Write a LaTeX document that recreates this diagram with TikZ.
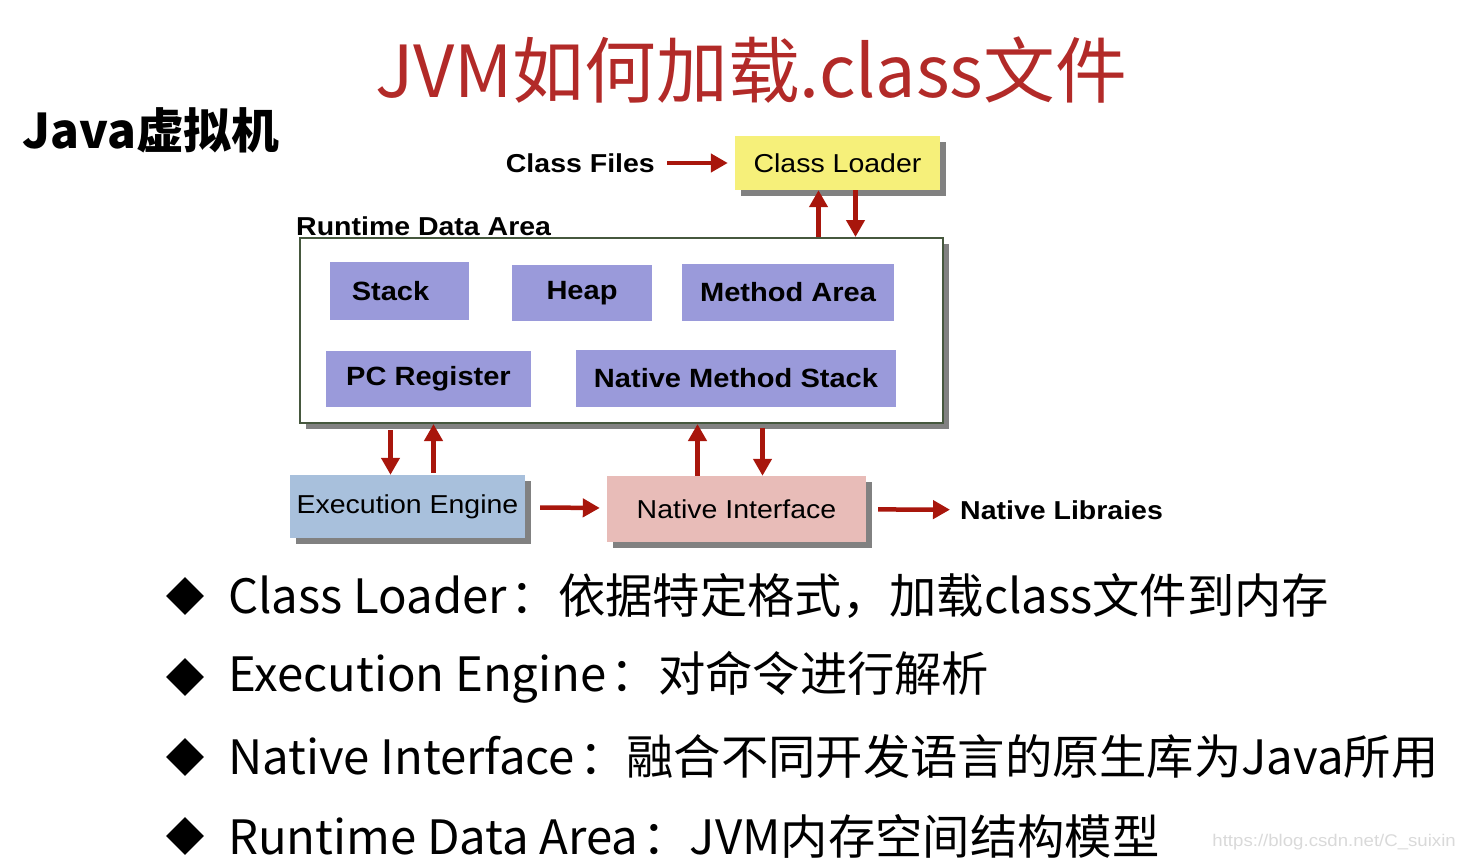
\documentclass[tikz,border=0pt]{standalone}
\usepackage{fontspec}
\setmainfont{Noto Sans CJK SC}
\newfontfamily\arialfont[FakeStretch=1.1]{Liberation Sans}
\usetikzlibrary{positioning}
\usetikzlibrary{arrows.meta}
\usetikzlibrary{shadows}
\usetikzlibrary{shapes.geometric}
\definecolor{titlered}{RGB}{178,42,40}
\definecolor{arrowred}{RGB}{168,22,12}
\definecolor{areablue}{RGB}{154,154,218}
\definecolor{loaderyellow}{RGB}{246,240,122}
\definecolor{engineblue}{RGB}{168,192,220}
\definecolor{nativepink}{RGB}{232,188,184}
\definecolor{framegreen}{RGB}{70,88,62}
\newcommand{\pt}[1]{\fontsize{#1}{#1}\selectfont}
\newcommand{\sep}{\hspace{4bp}：}
\tikzset{
    box/.style={inner sep=0pt, font=\arialfont\pt{26},
        drop shadow={shadow xshift=6bp, shadow yshift=-6bp, fill=black!70, opacity=.7}},
    area/.style={fill=areablue, inner sep=0pt, font=\arialfont\bfseries\pt{26.5}},
    tag/.style={inner sep=0pt, font=\arialfont\bfseries\pt{26}},
    flow/.style={draw=arrowred, line width=4.5bp, -{Triangle[length=17bp, width=18bp]}},
    bullet/.style={diamond, fill=black, inner sep=0pt, minimum size=38bp},
    point/.style={anchor=west, inner sep=0pt, font=\pt{47.5}},
}

\begin{document}
\begin{tikzpicture}[x=1bp, y=-1bp]
    \useasboundingbox (0,0) rectangle (1465,860);

    % Titles
    \node[text=titlered, font=\pt{72}] (title) at (751,70) {JVM如何加载.class文件};
    \node[anchor=west, inner sep=0pt, font=\bfseries\pt{48}] (jvm) at (22,130) {Java虚拟机};

    % Class loader
    \node[box, fill=loaderyellow, minimum width=205bp, minimum height=54bp] (loader) at (837.5,163) {Class Loader};
    \node[tag, anchor=east] (files) at (655,163) {Class Files};
    \draw[flow, shorten <=12bp, shorten >=7bp] (files) -- (loader);

    % Runtime data area
    \node[box, draw=framegreen, line width=2bp, fill=white, minimum width=643bp, minimum height=185bp] (rda) at (621.5,330.5) {};
    \node[tag, anchor=base west] (rdaname) at (296,235) {Runtime Data Area};
    \node[area, minimum width=139bp, minimum height=58bp] (stack) at (399.5,291) {\hspace{-18bp}Stack};
    \node[area, minimum width=140bp, minimum height=56bp] (heap) at (582,293) {\raisebox{-3bp}{Heap}};
    \node[area, minimum width=212bp, minimum height=57bp] (method) at (788,292.5) {Method Area};
    \node[area, minimum width=205bp, minimum height=56bp] (pcreg) at (428.5,379) {PC Register};
    \node[area, minimum width=320bp, minimum height=57bp] (nms) at (736,378.5) {Native Method Stack};

    % Engine and native interface
    \node[box, fill=engineblue, minimum width=235bp, minimum height=63bp] (engine) at (407.5,506.5) {Execution Engine};
    \node[box, fill=nativepink, minimum width=259bp, minimum height=66bp] (native) at (736.5,509) {Native Interface};
    \node[tag, anchor=west] (libs) at (960,510) {Native Libraies};
    \draw[flow, shorten <=15bp, shorten >=7bp] (engine) -- (native);
    \draw[flow, shorten <=12bp, shorten >=10bp] (native) -- (libs);

    % Up and down arrows
    \coordinate (clup) at ([xshift=-19bp]loader.south);
    \coordinate (cldown) at ([xshift=18bp]loader.south);
    \draw[flow] (clup |- rda.north) -- (clup);
    \draw[flow] (cldown) -- (cldown |- rda.north);
    \coordinate (eedown) at ([xshift=-17bp]engine.north);
    \coordinate (eeup) at ([xshift=26bp]engine.north);
    \draw[flow, shorten <=6bp] (eedown |- rda.south) -- (eedown);
    \draw[flow, shorten <=2bp] (eeup) -- (eeup |- rda.south);
    \coordinate (niup) at ([xshift=-39bp]native.north);
    \coordinate (nidown) at ([xshift=26bp]native.north);
    \draw[flow] (niup) -- (niup |- rda.south);
    \draw[flow, shorten <=4bp] (nidown |- rda.south) -- (nidown);

    % Points
    \node[bullet] (b1) at (185,596) {};
    \node[bullet] (b2) at (185,677) {};
    \node[bullet] (b3) at (185,757) {};
    \node[bullet] (b4) at (185,836) {};
    \node[point] (p1) at (228,596) {Class Loader\sep 依据特定格式，加载class文件到内存};
    \node[point] (p2) at (228,677) {Execution Engine\sep 对命令进行解析};
    \node[point] (p3) at (228,757) {Native Interface\sep 融合不同开发语言的原生库为Java所用};
    \node[point] (p4) at (228,836) {Runtime Data Area\sep JVM内存空间结构模型};

    \node[anchor=east, inner sep=0pt, text=black!15, font=\arialfont\pt{17}] (mark) at (1456,842) {https://blog.csdn.net/C\_suixin};
\end{tikzpicture}
\end{document}
